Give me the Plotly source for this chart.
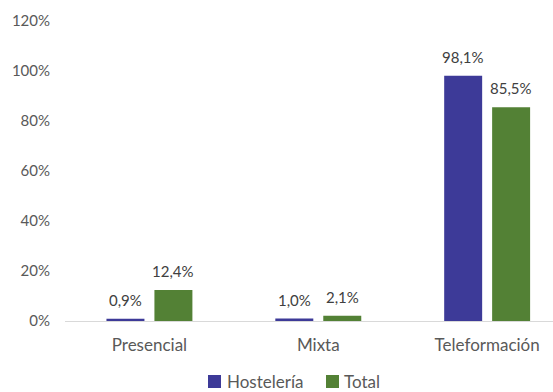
import plotly.graph_objects as go

categories = ["Presencial", "Mixta", "Teleformación"]
hosteleria = [0.9, 1.0, 98.1]
total = [12.4, 2.1, 85.5]
series_names = ["Hostelería", "Total"]
y_ticks = [0, 20, 40, 60, 80, 100, 120]
y_tick_labels = ["0%", "20%", "40%", "60%", "80%", "100%", "120%"]

colors = ["#3D3A98", "#538135"]
font_family = "Lato, 'Open Sans', sans-serif"

W, H = 553, 392
ML, MT, MB = 65, 21, 71
PW, PH = W - ML, H - MT - MB


def pct(v):
    return f"{v:.1f}".replace(".", ",") + "%"


def px_x(p):
    return (p - ML) / PW


def px_y(p):
    return (H - MB - p) / PH


fig = go.Figure()
for name, vals, col in zip(series_names, [hosteleria, total], colors):
    fig.add_trace(go.Bar(
        x=categories, y=vals, name=name,
        marker=dict(color=col, line=dict(width=0)),
    ))

# value labels above each bar
for vals, shift in zip([hosteleria, total], [-24, 24]):
    for c, v in zip(categories, vals):
        fig.add_annotation(
            x=c, y=v, text=pct(v), showarrow=False,
            xshift=shift, yshift=8, yanchor="bottom",
            font=dict(family=font_family, size=15, color="#404040"),
        )

# legend drawn below the plot: colour square + name
legend_items = [(208, 225), (326, 342)]
for (sq_x, tx_x), name, col in zip(legend_items, series_names, colors):
    fig.add_shape(
        type="rect", xref="paper", yref="paper",
        x0=px_x(sq_x), x1=px_x(sq_x + 13),
        y0=px_y(388), y1=px_y(375),
        fillcolor=col, line=dict(width=0),
    )
    fig.add_annotation(
        xref="paper", yref="paper", x=px_x(tx_x), y=px_y(381),
        xanchor="left", yanchor="middle", showarrow=False,
        text=name, font=dict(family=font_family, size=17, color="#595959"),
    )

fig.update_layout(
    width=W, height=H,
    margin=dict(l=ML, r=0, t=MT, b=MB, autoexpand=False),
    paper_bgcolor="white", plot_bgcolor="white",
    barmode="group", bargap=0.432, bargroupgap=0.208,
    font=dict(family=font_family, color="#595959"),
    showlegend=False,
    xaxis=dict(
        range=[-0.5, 2.39], showgrid=False, showline=True,
        linecolor="#D9D9D9", linewidth=1, ticks="",
        tickfont=dict(size=17, color="#595959"),
        ticklabelstandoff=9,
    ),
    yaxis=dict(
        range=[0, 120], tickvals=y_ticks, ticktext=y_tick_labels,
        showgrid=False, zeroline=False, showline=False,
        tickfont=dict(size=15, color="#595959"),
        ticklabelstandoff=14,
    ),
)

fig.write_html("out.html")
